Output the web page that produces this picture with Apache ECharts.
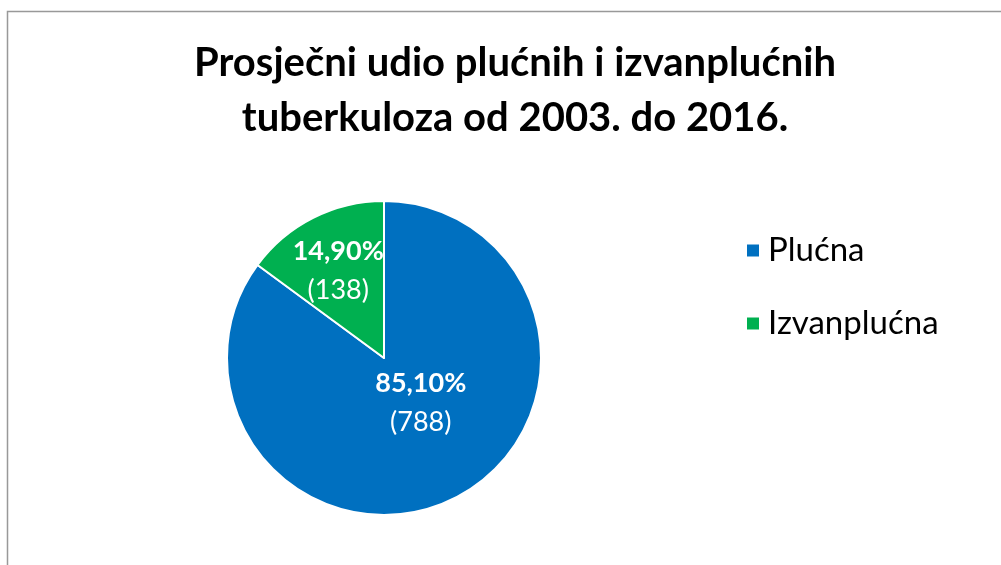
<!DOCTYPE html>
<html>
<head>
<meta charset="utf-8">
<script src="https://cdn.jsdelivr.net/npm/echarts@6/dist/echarts.min.js"></script>
<style>
  html, body { margin: 0; padding: 0; background: #fff; }
  #main { width: 1001px; height: 565px; }
</style>
</head>
<body>
<div id="main"></div>
<script>
// podaci
var categories = ['Plućna', 'Izvanplućna'];
var counts = [788, 138];
var percents = ['85,10%', '14,90%'];
var colors = ['#0070C0', '#00B050'];

var chart = echarts.init(document.getElementById('main'));

var labelOffsets = [[0, -28], [-9, -14]];
var pieData = categories.map(function (name, i) {
  return {
    name: name,
    value: counts[i],
    itemStyle: { color: colors[i] },
    label: { offset: labelOffsets[i] }
  };
});

var option = {
  backgroundColor: '#fff',
  animation: false,
  title: {
    text: 'Prosječni udio plućnih i izvanplućnih\ntuberkuloza od 2003. do 2016.',
    left: 510,
    textAlign: 'center',
    top: 31,
    textStyle: {
      fontFamily: 'Lato',
      fontWeight: 'bold',
      fontSize: 40,
      lineHeight: 55,
      color: '#000'
    }
  },
  legend: {
    orient: 'vertical',
    left: 740,
    top: 229,
    itemWidth: 14,
    itemHeight: 14,
    itemGap: 40,
    icon: 'rect',
    data: categories,
    textStyle: {
      fontFamily: 'Lato',
      fontSize: 33,
      color: '#000',
      padding: [0, 0, 0, 3]
    }
  },
  graphic: [{
    type: 'rect',
    shape: { x: 7.5, y: 11.5, width: 1100, height: 700 },
    style: { fill: 'none', stroke: '#999', lineWidth: 1.5 },
    silent: true
  }],
  series: [{
    type: 'pie',
    center: [384, 358],
    radius: 157,
    startAngle: 90,
    clockwise: true,
    itemStyle: { borderColor: '#fff', borderWidth: 2 },
    label: {
      position: 'inside',
      formatter: function (p) {
        return '{b|' + percents[p.dataIndex] + '}\n{n|(' + p.value + ')}';
      },
      rich: {
        b: { fontFamily: 'Lato', fontWeight: 'bold', fontSize: 27, color: '#fff', lineHeight: 39 },
        n: { fontFamily: 'Lato', fontSize: 27, color: '#fff', lineHeight: 39 }
      }
    },
    labelLine: { show: false },
    data: pieData
  }]
};
chart.setOption(option);
</script>
</body>
</html>
